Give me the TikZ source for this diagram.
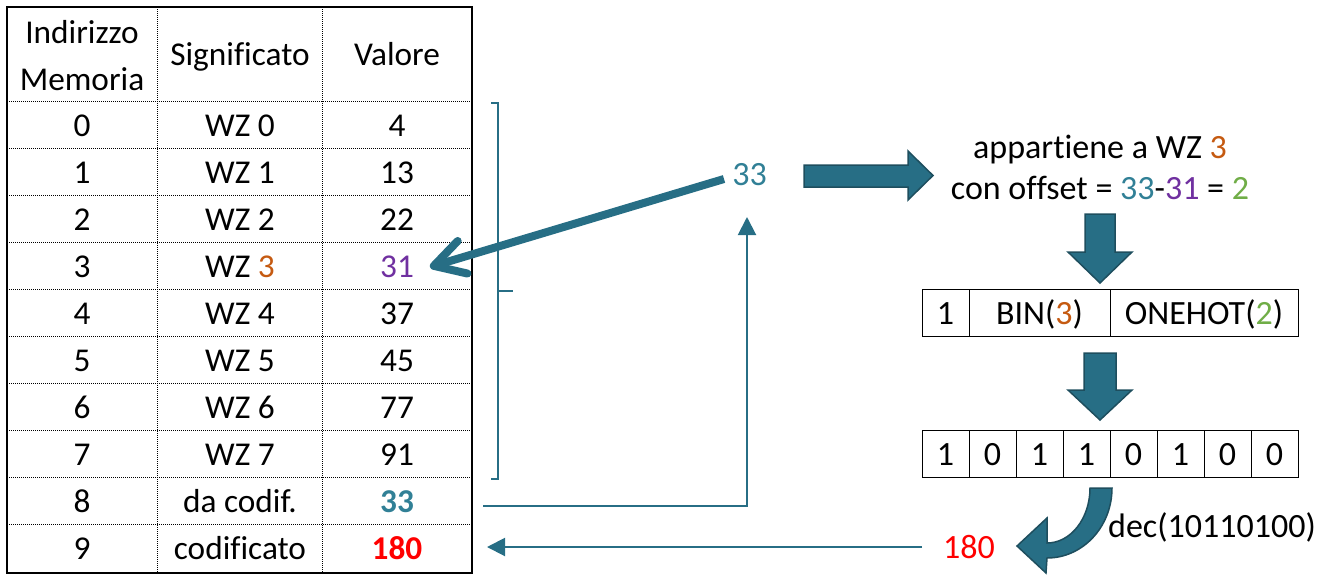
\documentclass[tikz,border=0pt]{standalone}
\usepackage{fontspec}
\setmainfont{Carlito}[Ligatures=NoCommon]
\usetikzlibrary{arrows.meta}
\definecolor{tealA}{RGB}{39,110,133}
\definecolor{tealD}{RGB}{30,78,94}
\definecolor{tealT}{RGB}{49,128,150}
\definecolor{orng}{RGB}{197,90,17}
\definecolor{purp}{RGB}{112,48,160}
\definecolor{grn}{RGB}{112,173,71}
\definecolor{redd}{RGB}{255,0,0}
\newcommand{\tfnt}{\fontsize{33.3}{40}\selectfont}
\newcommand{\rfnt}{\fontsize{34}{40}\selectfont}
\tikzset{
  cell/.style={font=\tfnt, inner sep=0pt, text height=30pt, text depth=5.6pt},
  hdr/.style={font=\tfnt, inner sep=0pt, anchor=base},
  rtxt/.style={font=\rfnt, inner sep=0pt, anchor=base},
  gridline/.style={line width=1pt, dash pattern=on 1pt off 1pt},
  bitcell/.style={draw, line width=1pt, font=\rfnt, inner sep=0pt, minimum height=47pt, text height=30pt, text depth=5.6pt},
  blockarrow/.style={fill=tealA, draw=tealD, line width=1.5pt, line join=miter},
  thinarrow/.style={draw=tealA, line width=2pt, -{Triangle[length=18pt,width=18pt]}},
}
\begin{document}
\begin{tikzpicture}[x=1pt,y=-1pt]
\useasboundingbox (0,0) rectangle (1326,582);
% table grid
\foreach \k in {0,...,9} {\draw[gridline] (7,101+47*\k) -- (472,101+47*\k);}
\draw[gridline] (157,7) -- (157,573);
\draw[gridline] (322,7) -- (322,573);
\draw[line width=2.2pt] (7,7) rectangle (472,573);
% header
\node[hdr] (hInd) at (82,43.3) {Indirizzo};
\node[hdr] (hMem) at (82,90) {Memoria};
\node[hdr] (hSig) at (240,65) {Significato};
\node[hdr] (hVal) at (397,65) {Valore};
% rows
\foreach \i/\s/\v in {0/{WZ 0}/4, 1/{WZ 1}/13, 2/{WZ 2}/22,
  3/{WZ \textcolor{orng}{3}}/{\textcolor{purp}{31}}, 4/{WZ 4}/37, 5/{WZ 5}/45,
  6/{WZ 6}/77, 7/{WZ 7}/91, 8/{da codif.}/{\textcolor{tealT}{\bfseries 33}},
  9/{codificato}/{\textcolor{redd}{\bfseries 180}}} {
  \node[cell] (a\i) at (82,124.5+47*\i) {\i};
  \node[cell] (s\i) at (240,124.5+47*\i) {\s};
  \node[cell] (v\i) at (397,124.5+47*\i) {\v};
}
% bracket
\draw[tealA, line width=2pt] (491,103) -- (498,103) -- (498,479) -- (491,479);
\draw[tealA, line width=2pt] (498,291) -- (513,291);
% middle 33
\node[rtxt, text=tealT] (m33) at (749.5,185) {33};
\coordinate (p1) at (724,179);
\coordinate (p2) at (430,267);
\draw[tealA, line width=8pt, -{Straight Barb[length=30pt,width=34pt,round]}] (p1) -- (p2);
% return line from row 8 up to 33
\coordinate (q1) at (483,506);
\coordinate (q2) at (747,217);
\draw[thinarrow] (q1) -| (q2);
% right block arrow
\draw[blockarrow] (804,165) -- (908,165) -- (908,151) -- (933,175.5) -- (908,200) -- (908,187) -- (804,187) -- cycle;
% text lines
\node[rtxt] (l1) at (1100,158.3) {appartiene a WZ \textcolor{orng}{3}};
\node[rtxt] (l2) at (1100,199.3) {con offset = \textcolor{tealT}{33}-\textcolor{purp}{31} = \textcolor{grn}{2}};
% down arrow 1
\draw[blockarrow] (1085,214) -- (1115,214) -- (1115,252) -- (1132,252) -- (1100,283) -- (1068,252) -- (1085,252) -- cycle;
% box 1
\node[bitcell, minimum width=47pt] (c1) at (945.5,312.5) {1};
\node[bitcell, minimum width=141pt] (c2) at (1039.5,312.5) {BIN(\textcolor{orng}{3})};
\node[bitcell, minimum width=188pt] (c3) at (1204,312.5) {ONEHOT(\textcolor{grn}{2})};
% down arrow 2
\draw[blockarrow] (1084,353) -- (1116,353) -- (1116,390) -- (1132,390) -- (1100,420) -- (1068,390) -- (1084,390) -- cycle;
% box 2
\foreach \b [count=\j from 0] in {1,0,1,1,0,1,0,0} {
  \node[bitcell, minimum width=47pt] (d\j) at (945.5+47*\j,453.5) {\b};
}
% curved arrow
\draw[blockarrow] (1112,488) arc[start angle=0, end angle=90, x radius=65, y radius=70] -- (1046,573) -- (1017,546) -- (1047,518) -- (1047,543) arc[start angle=90, end angle=0, x radius=43, y radius=55] -- cycle;
\node[rtxt] (dec) at (1212,537) {dec(10110100)};
% result
\node[rtxt, text=redd] (r180) at (969,558) {180};
\coordinate (u1) at (922,547);
\coordinate (u2) at (487,547);
\draw[thinarrow] (u1) -- (u2);
\end{tikzpicture}
\end{document}
